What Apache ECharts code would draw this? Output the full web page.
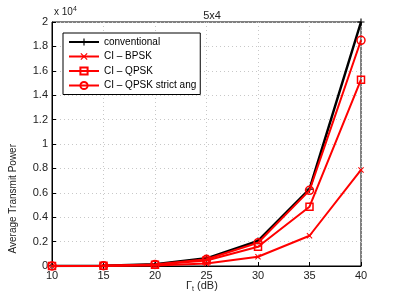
<!DOCTYPE html>
<html><head><meta charset="utf-8">
<script src="https://cdn.jsdelivr.net/npm/echarts@6/dist/echarts.min.js"></script>
<style>html,body{margin:0;padding:0;background:#fff}#c{width:399px;height:300px}</style>
</head><body><div id="c"></div>
<script>
var xValues = [10, 15, 20, 25, 30, 35, 40];
var conventional = [10, 30, 150, 630, 2050, 6300, 20000];
var ciBPSK = [5, 15, 50, 200, 760, 2480, 7870];
var ciQPSK = [8, 25, 100, 450, 1580, 4860, 15270];
var ciQPSKStrict = [10, 28, 130, 550, 1900, 6200, 18500];
var yTicks = [0, 2000, 4000, 6000, 8000, 10000, 12000, 14000, 16000, 18000, 20000];
var seriesNames = ['conventional', 'CI – BPSK', 'CI – QPSK', 'CI – QPSK strict ang'];

function pairs(arr){ return xValues.map(function(x,i){ return [x, arr[i]]; }); }
var font = 'Liberation Sans';
var plusPath = 'path://M4.2,0H5.8V10H4.2Z M0,4.2H10V5.8H0Z';
var xPath = 'path://M0,1.2L1.2,0L5,3.8L8.8,0L10,1.2L6.2,5L10,8.8L8.8,10L5,6.2L1.2,10L0,8.8L3.8,5Z';

var chart = echarts.init(document.getElementById('c'), null, {renderer:'canvas'});
chart.setOption({
  animation: false,
  backgroundColor: '#fff',
  title: { text: '5x4', left: 207, top: 5, textAlign: 'center',
    textStyle: { fontFamily: font, fontSize: 11, fontWeight: 'normal', color: '#222' } },
  grid: { left: 52, right: 38, top: 22, bottom: 34, show: true, borderColor: '#000', borderWidth: 1 },
  legend: {
    orient: 'vertical', left: 63, top: 33, itemWidth: 30, itemHeight: 9, itemGap: 4.5,
    padding: [4, 4, 4, 5],
    backgroundColor: '#fff', borderColor: '#000', borderWidth: 1,
    textStyle: { fontFamily: font, fontSize: 10, color: '#000' },
    data: seriesNames
  },
  xAxis: {
    type: 'value', min: 10, max: 40, interval: 5,
    axisLine: { show: true, lineStyle: { color: '#000' } },
    axisTick: { inside: true, length: 4, lineStyle: { color: '#000' } },
    axisLabel: { fontFamily: font, fontSize: 11, color: '#222', margin: 4 },
    splitLine: { show: true, lineStyle: { color: '#c8c8c8', type: [1, 3] } }
  },
  yAxis: {
    type: 'value', min: 0, max: 20000, interval: 2000,
    axisLine: { show: true, lineStyle: { color: '#000' } },
    axisTick: { inside: true, length: 4, lineStyle: { color: '#000' } },
    axisLabel: { fontFamily: font, fontSize: 11, color: '#222', margin: 4,
      formatter: function(v){ return String(Math.round(v/2000)*2/10); } },
    splitLine: { show: true, lineStyle: { color: '#c8c8c8', type: [1, 3] } }
  },
  graphic: [
    { type: 'text', left: 54, top: 6, style: { rich: { a: { fontFamily: font, fontSize: 10, fill: '#222' }, s: { fontFamily: font, fontSize: 7, fill: '#222', verticalAlign: 'top', padding: [0,0,6,0] } }, text: '{a|x 10}{s|4}' } },
    { type: 'text', left: 8, top: 144, rotation: Math.PI/2, style: { text: 'Average Transmit Power', fontFamily: font, fontSize: 10, fill: '#222', align: 'center', verticalAlign: 'middle' } },
    { type: 'text', left: 186, top: 280, style: { rich: { a: { fontFamily: font, fontSize: 11, fill: '#222' }, s: { fontFamily: font, fontSize: 7, fill: '#222', padding: [8,0,0,0] } }, text: '{a|Γ}{s|t}{a| (dB)}' } }
  ],
  series: [
    { name: seriesNames[0], type: 'line', data: pairs(conventional), symbol: plusPath, symbolSize: 7,
      lineStyle: { color: '#000', width: 2.5 }, itemStyle: { color: '#000' }, z: 2 },
    { name: seriesNames[1], type: 'line', data: pairs(ciBPSK), symbol: xPath, symbolSize: 6,
      lineStyle: { color: '#f00', width: 2 }, itemStyle: { color: '#f00' }, z: 3 },
    { name: seriesNames[2], type: 'line', data: pairs(ciQPSK), symbol: 'rect', symbolSize: 7,
      lineStyle: { color: '#f00', width: 2 }, itemStyle: { color: 'rgba(255,255,255,0)', borderColor: '#f00', borderWidth: 1.5 }, z: 4 },
    { name: seriesNames[3], type: 'line', data: pairs(ciQPSKStrict), symbol: 'circle', symbolSize: 8,
      lineStyle: { color: '#f00', width: 2 }, itemStyle: { color: 'rgba(255,255,255,0)', borderColor: '#f00', borderWidth: 1.5 }, z: 5 }
  ]
});
</script></body></html>
